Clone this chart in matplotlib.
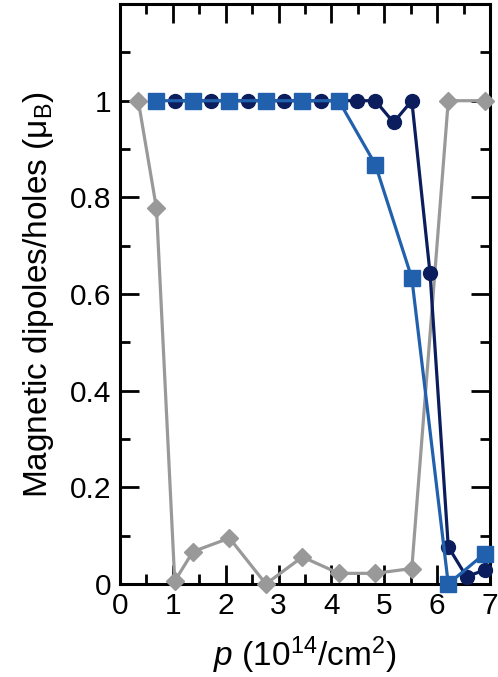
import matplotlib
matplotlib.use("Agg")
import matplotlib.pyplot as plt
from matplotlib.ticker import MultipleLocator, FuncFormatter

plt.rcParams['font.family'] = ['Liberation Sans', 'DejaVu Sans']
plt.rcParams['mathtext.fontset'] = 'custom'
plt.rcParams['mathtext.rm'] = 'Liberation Sans'
plt.rcParams['mathtext.it'] = 'Liberation Sans:italic'

# Hole density p (10^14 / cm^2) and moments for each series
p_gray = [0.345, 0.69, 1.035, 1.38, 2.07, 2.76, 3.45, 4.14, 4.83, 5.52, 6.21, 6.90]
m_gray = [1.0, 0.777, 0.006, 0.067, 0.095, 0.0, 0.056, 0.022, 0.022, 0.032, 1.0, 1.0]

p_navy = [1.035, 1.725, 2.415, 3.105, 3.795, 4.485, 4.83, 5.175, 5.52, 5.865, 6.21, 6.555, 6.90]
m_navy = [1.0, 1.0, 1.0, 1.0, 1.0, 1.0, 1.0, 0.955, 1.0, 0.643, 0.077, 0.015, 0.029]

p_blue = [0.69, 1.38, 2.07, 2.76, 3.45, 4.14, 4.83, 5.52, 6.21, 6.90]
m_blue = [1.0, 1.0, 1.0, 1.0, 1.0, 1.0, 0.868, 0.633, 0.0, 0.063]

fig = plt.figure(figsize=(4.98, 6.77), dpi=100)
ax = fig.add_axes([0.241, 0.1374, 0.743, 0.8566])

ax.plot(p_gray, m_gray, color='#999999', lw=2.3, marker='D', ms=8.8,
        mec='#999999', clip_on=False, zorder=3)
ax.plot(p_navy, m_navy, color='#0b1d5c', lw=2.3, marker='o', ms=10,
        clip_on=False, zorder=4)
ax.plot(p_blue, m_blue, color='#2160ad', lw=2.3, marker='s', ms=11.5,
        clip_on=False, zorder=5)

ax.set_xlim(0, 7)
ax.set_ylim(0, 1.2)
ax.xaxis.set_major_locator(MultipleLocator(1))
ax.xaxis.set_minor_locator(MultipleLocator(0.5))
ax.set_yticks([0, 0.2, 0.4, 0.6, 0.8, 1.0])
ax.yaxis.set_minor_locator(MultipleLocator(0.1))
ax.yaxis.set_major_formatter(FuncFormatter(lambda v, _: '%g' % round(v, 2)))

ax.tick_params(which='both', direction='in', top=True, right=True,
               width=2.0, labelsize=21.5, pad=6)
ax.tick_params(which='major', length=13.5)
ax.tick_params(which='minor', length=7)
for s in ax.spines.values():
    s.set_linewidth(2.2)

ax.set_xlabel(r'$p$ (10$^{14}$/cm$^2$)', fontsize=24, labelpad=10)
ax.set_ylabel(r'Magnetic dipoles/holes (μ$_{\mathrm{B}}$)', fontsize=24, labelpad=10)

fig.savefig('out.png', dpi=100)
